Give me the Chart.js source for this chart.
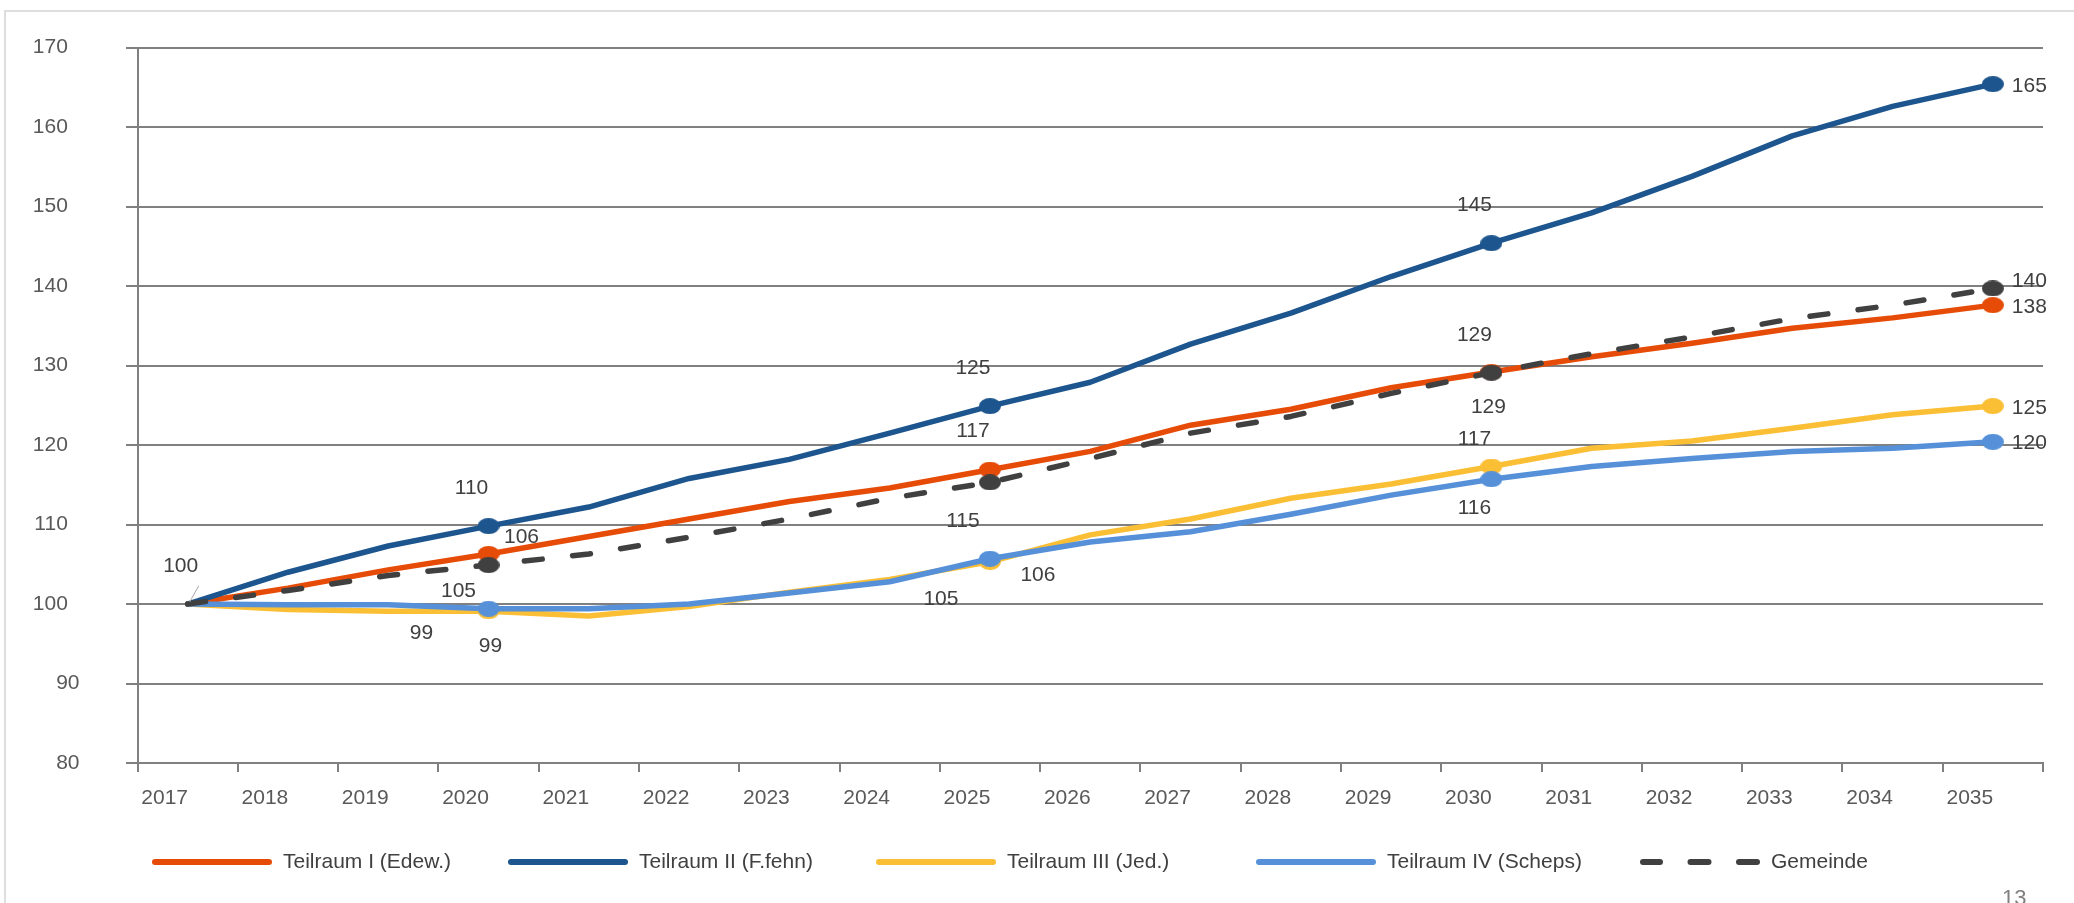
<!DOCTYPE html>
<html lang="de">
<head>
<meta charset="UTF-8">
<title>Bevölkerungsentwicklung Teilräume</title>
<script src="https://cdn.jsdelivr.net/npm/chart.js@4.4.1/dist/chart.umd.min.js"></script>
<style>
    html, body { margin:0; padding:0; background:#fff; overflow:hidden; width:2074px; height:903px; }
    #frame { position:absolute; left:4px; top:10px; width:2200px; height:1000px; border-top:2px solid #dedede; border-left:2px solid #dedede; }
    #wrap { position:absolute; left:0; top:0; width:2074px; height:903px; }
    #page { position:absolute; left:2002px; top:887px; font:22px/22px "Liberation Sans", Arial, sans-serif; color:#7f7f7f; }
</style>
</head>
<body>
<div id="frame"></div>
<div id="wrap"><canvas id="chart"></canvas></div>
<div id="page">13</div>
<script>
    // Index 2017 = 100
    const years = ["2017","2018","2019","2020","2021","2022","2023","2024","2025","2026",
                   "2027","2028","2029","2030","2031","2032","2033","2034","2035"];

    const teilraumI   = [100, 102.0, 104.3, 106.3, 108.5, 110.7, 112.9, 114.6, 116.9, 119.2, 122.5, 124.5, 127.2, 129.2, 131.1, 132.8, 134.7, 136.0, 137.6];
    const teilraumII  = [100, 104.0, 107.3, 109.8, 112.2, 115.8, 118.2, 121.5, 124.9, 127.9, 132.7, 136.6, 141.2, 145.4, 149.2, 153.8, 158.9, 162.6, 165.4];
    const teilraumIII = [100, 99.3, 99.1, 99.1, 98.5, 99.7, 101.5, 103.1, 105.3, 108.7, 110.7, 113.3, 115.1, 117.3, 119.6, 120.5, 122.1, 123.8, 124.9];
    const teilraumIV  = [100, 99.9, 99.9, 99.4, 99.4, 100.0, 101.4, 102.8, 105.7, 107.8, 109.1, 111.3, 113.7, 115.7, 117.3, 118.3, 119.2, 119.6, 120.4];
    const gemeinde    = [100, 101.7, 103.6, 104.9, 106.3, 108.4, 110.7, 113.3, 115.3, 118.3, 121.5, 123.6, 126.5, 129.1, 131.5, 133.6, 135.9, 137.6, 139.7];

    // years that get a marker (2020, 2025, 2030, 2035)
    const markerYears = ["2020","2025","2030","2035"];

    const FONT = '"Liberation Sans", Arial, sans-serif';
    const GRID = "#808080";

    // where each value label sits relative to its point: [dataset, index, dx, dy, align, leader]
    const labelSpecs = [
        [0, 0, -7, -38, "center", true],
        [1, 3, -17, -38], [0, 3, 33, -17], [4, 3, -30, 26], [2, 3, -67, 22], [3, 3, 2, 37],
        [1, 8, -17, -38], [0, 8, -17, -38], [4, 8, -27, 39], [3, 8, 48, 16], [2, 8, -49, 37],
        [1, 13, -17, -38], [0, 13, -17, -37], [4, 13, -3, 34], [2, 13, -17, -27], [3, 13, -17, 29],
        [1, 18, 19, 2, "left"], [4, 18, 19, -7, "left"], [0, 18, 19, 2, "left"], [2, 18, 19, 2, "left"], [3, 18, 19, 1, "left"]
    ];

    // markers in the original are slightly wide ovals
    function oval(color) {
        const c = document.createElement("canvas");
        c.width = 22;
        c.height = 16;
        const g = c.getContext("2d");
        g.fillStyle = color;
        g.beginPath();
        g.ellipse(11, 8, 11, 8, 0, 0, Math.PI * 2);
        g.fill();
        return c;
    }

    const pointLabels = {
        id: "pointLabels",
        afterDatasetsDraw(chart) {
            const ctx = chart.ctx;
            ctx.save();
            ctx.font = "21px " + FONT;
            ctx.fillStyle = "#404040";
            ctx.textBaseline = "middle";
            for (const [ds, i, dx, dy, align, leader] of labelSpecs) {
                const pt = chart.getDatasetMeta(ds).data[i];
                const v = chart.data.datasets[ds].data[i];
                ctx.textAlign = align || "center";
                ctx.fillText(String(Math.round(v)), pt.x + dx, pt.y + dy);
                if (leader) {
                    ctx.strokeStyle = "#a6a6a6";
                    ctx.lineWidth = 1;
                    ctx.beginPath();
                    ctx.moveTo(pt.x + 11, pt.y - 18);
                    ctx.lineTo(pt.x + 2, pt.y - 2);
                    ctx.stroke();
                }
            }
            ctx.restore();
        }
    };

    // legend below the plot: line sample + text, left edges of each entry
    const legendStarts = [152, 508, 876, 1256, 1640];
    const bottomLegend = {
        id: "bottomLegend",
        afterDraw(chart) {
            const ctx = chart.ctx;
            const y = 862;
            ctx.save();
            ctx.font = "21px " + FONT;
            ctx.textBaseline = "middle";
            ctx.textAlign = "left";
            chart.data.datasets.forEach((ds, i) => {
                const x = legendStarts[i];
                ctx.strokeStyle = ds.borderColor;
                ctx.lineWidth = 6;
                ctx.lineCap = "round";
                ctx.setLineDash(ds.borderDash);
                ctx.beginPath();
                ctx.moveTo(x + 117, y);
                ctx.lineTo(x + 3, y);
                ctx.stroke();
                ctx.setLineDash([]);
                ctx.fillStyle = "#404040";
                ctx.fillText(ds.label, x + 131, y);
            });
            ctx.restore();
        }
    };

    function series(label, data, color, order, dash) {
        return {
            label: label,
            data: data,
            borderColor: color,
            backgroundColor: color,
            borderWidth: 5.5,
            borderCapStyle: "round",
            borderJoinStyle: "round",
            borderDash: dash || [],
            tension: 0,
            order: order,
            pointRadius: c => markerYears.includes(years[c.dataIndex]) ? 9 : 0,
            pointStyle: oval(color),
            pointBackgroundColor: color,
            pointBorderWidth: 0
        };
    }

    new Chart(document.getElementById("chart"), {
        type: "line",
        data: {
            labels: years,
            datasets: [
                series("Teilraum I (Edew.)", teilraumI, "#E64C07", 5),
                series("Teilraum II (F.fehn)", teilraumII, "#1D558E", 4),
                series("Teilraum III (Jed.)", teilraumIII, "#FBBF36", 3),
                series("Teilraum IV (Scheps)", teilraumIV, "#5590D8", 2),
                series("Gemeinde", gemeinde, "#404040", 1, [18, 30.5])
            ]
        },
        options: {
            responsive: true,
            maintainAspectRatio: false,
            animation: false,
            events: [],
            layout: { autoPadding: false, padding: { left: 0, right: 31, top: 47.6, bottom: 90 } },
            scales: {
                x: {
                    offset: true,
                    grid: { drawOnChartArea: false, drawTicks: true, tickLength: 9, color: GRID, lineWidth: 2, offset: true },
                    border: { display: true, color: GRID, width: 2 },
                    ticks: { color: "#595959", font: { size: 21, family: FONT }, padding: 14, labelOffset: -23, maxRotation: 0, autoSkip: false },
                    afterFit: s => { s.height = 50; s.paddingLeft = 0; s.paddingRight = 0; }
                },
                y: {
                    min: 80,
                    max: 170,
                    grid: { color: GRID, lineWidth: 2, drawTicks: true, tickLength: 11.5 },
                    border: { display: true, color: GRID, width: 2 },
                    ticks: {
                        stepSize: 10,
                        color: "#595959",
                        font: { size: 21, family: FONT },
                        padding: 46.5,
                        callback: v => v >= 100 ? v + "  " : String(v)
                    },
                    afterFit: s => { s.width = 137.5; s.paddingTop = 0; s.paddingBottom = 0; }
                }
            },
            plugins: {
                tooltip: { enabled: false },
                legend: { display: false }
            }
        },
        plugins: [pointLabels, bottomLegend]
    });
</script>
</body>
</html>
